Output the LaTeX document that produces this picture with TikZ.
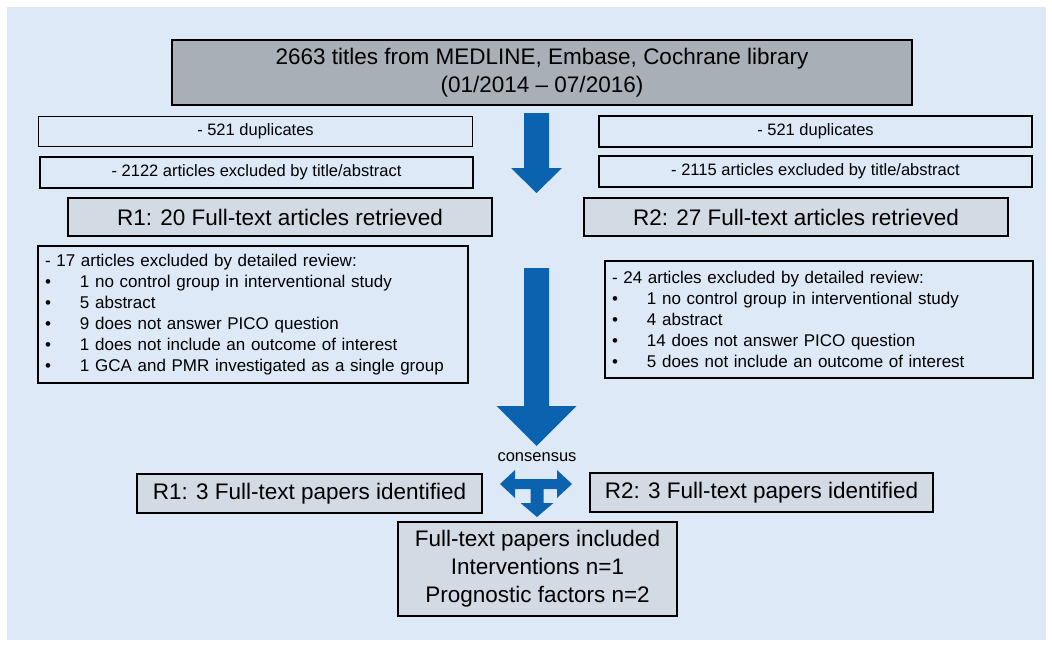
\documentclass[tikz,border=0pt]{standalone}
\usepackage{fontspec}
\setmainfont{Liberation Sans}
\usetikzlibrary{positioning,calc}
\definecolor{pane}{HTML}{DDE9F6}
\definecolor{head}{HTML}{A8AFB7}
\definecolor{shade}{HTML}{D2DAE3}
\definecolor{flow}{HTML}{0B63B0}
\newcommand{\itm}{\makebox[35pt][l]{\textbullet}}

\begin{document}
\begin{tikzpicture}[x=1pt,y=-1pt,
  box/.style={draw=black,line width=1.6pt,fill=pane,inner sep=0pt,align=center,
              font=\fontsize{16.5}{20}\selectfont},
  mid/.style={box,fill=shade,font=\fontsize{22.5}{28}\selectfont},
  top/.style={box,fill=head,line width=2.4pt,font=\fontsize{22.5}{28}\selectfont},
  rev/.style={box,align=left,inner xsep=7pt,font=\fontsize{17}{21}\selectfont},
  blk/.style={fill=flow,draw=none}]
\useasboundingbox (0,0) rectangle (1052,645);
\fill[pane] (7,7) rectangle (1046,640);
% source
\node[top,minimum width=740,minimum height=65] (src) at (542,72.5)
  {2663 titles from MEDLINE, Embase, Cochrane library\\(01/2014 -- 07/2016)};
% reviewer 1
\node[box,minimum width=434,minimum height=30] (dupA) at (255.5,131.5) {- 521 duplicates};
\node[box,minimum width=433,minimum height=31] (excA) at (256.5,172.5) {- 2122 articles excluded by title/abstract};
\node[mid,minimum width=424,minimum height=38] (retA) at (280,217) {R1: 20 Full-text articles retrieved};
\node[rev,minimum width=430,minimum height=137,text width=416] (revA) at (253,314.5)
  {- 17 articles excluded by detailed review:\\
   \itm 1 no control group in interventional study\\
   \itm 5 abstract\\
   \itm 9 does not answer PICO question\\
   \itm 1 does not include an outcome of interest\\
   \itm 1 GCA and PMR investigated as a single group};
% reviewer 2
\node[box,minimum width=433,minimum height=31] (dupB) at (815.5,131.5) {- 521 duplicates};
\node[box,minimum width=433,minimum height=31] (excB) at (815.5,171.5) {- 2115 articles excluded by title/abstract};
\node[mid,minimum width=424,minimum height=38] (retB) at (796,217) {R2: 27 Full-text articles retrieved};
\node[rev,minimum width=428,minimum height=117,text width=414] (revB) at (819,319.5)
  {- 24 articles excluded by detailed review:\\
   \itm 1 no control group in interventional study\\
   \itm 4 abstract\\
   \itm 14 does not answer PICO question\\
   \itm 5 does not include an outcome of interest};
% outcome
\node[font=\fontsize{16.5}{20}\selectfont,inner sep=0pt] (cons) at (537,457) {consensus};
\node[mid,minimum width=345,minimum height=39] (idA) at (309.5,493.5) {R1: 3 Full-text papers identified};
\node[mid,minimum width=343,minimum height=39] (idB) at (761.5,492.5) {R2: 3 Full-text papers identified};
\node[mid,minimum width=279,minimum height=94] (fin) at (537.5,569)
  {Full-text papers included\\Interventions n=1\\Prognostic factors n=2};
% block arrows
\coordinate (a1) at (536.5,113);
\coordinate (a2) at (536.5,268);
\coordinate (a3) at (500,484);
\fill[blk] (a1) ++(-12.5,0) -- ++(25,0) -- ++(0,55) -- ++(13,0) -- ++(-25.5,25)
  -- ++(-25.5,-25) -- ++(13,0) -- cycle;
\fill[blk] (a2) ++(-12.5,0) -- ++(25,0) -- ++(0,138) -- ++(27.5,0) -- ++(-40,40)
  -- ++(-40,-40) -- ++(27.5,0) -- cycle;
\fill[blk] (a3) -- ++(15,-14) -- ++(0,9) -- ++(42,0) -- ++(0,-9) -- ++(15,14)
  -- ++(-15,14) -- ++(0,-9) -- ++(-13.5,0) -- ++(0,14) -- ++(10,0) -- ++(-16.5,14)
  -- ++(-16.5,-14) -- ++(10,0) -- ++(0,-14) -- ++(-15.5,0) -- ++(0,9) -- cycle;
\end{tikzpicture}
\end{document}
